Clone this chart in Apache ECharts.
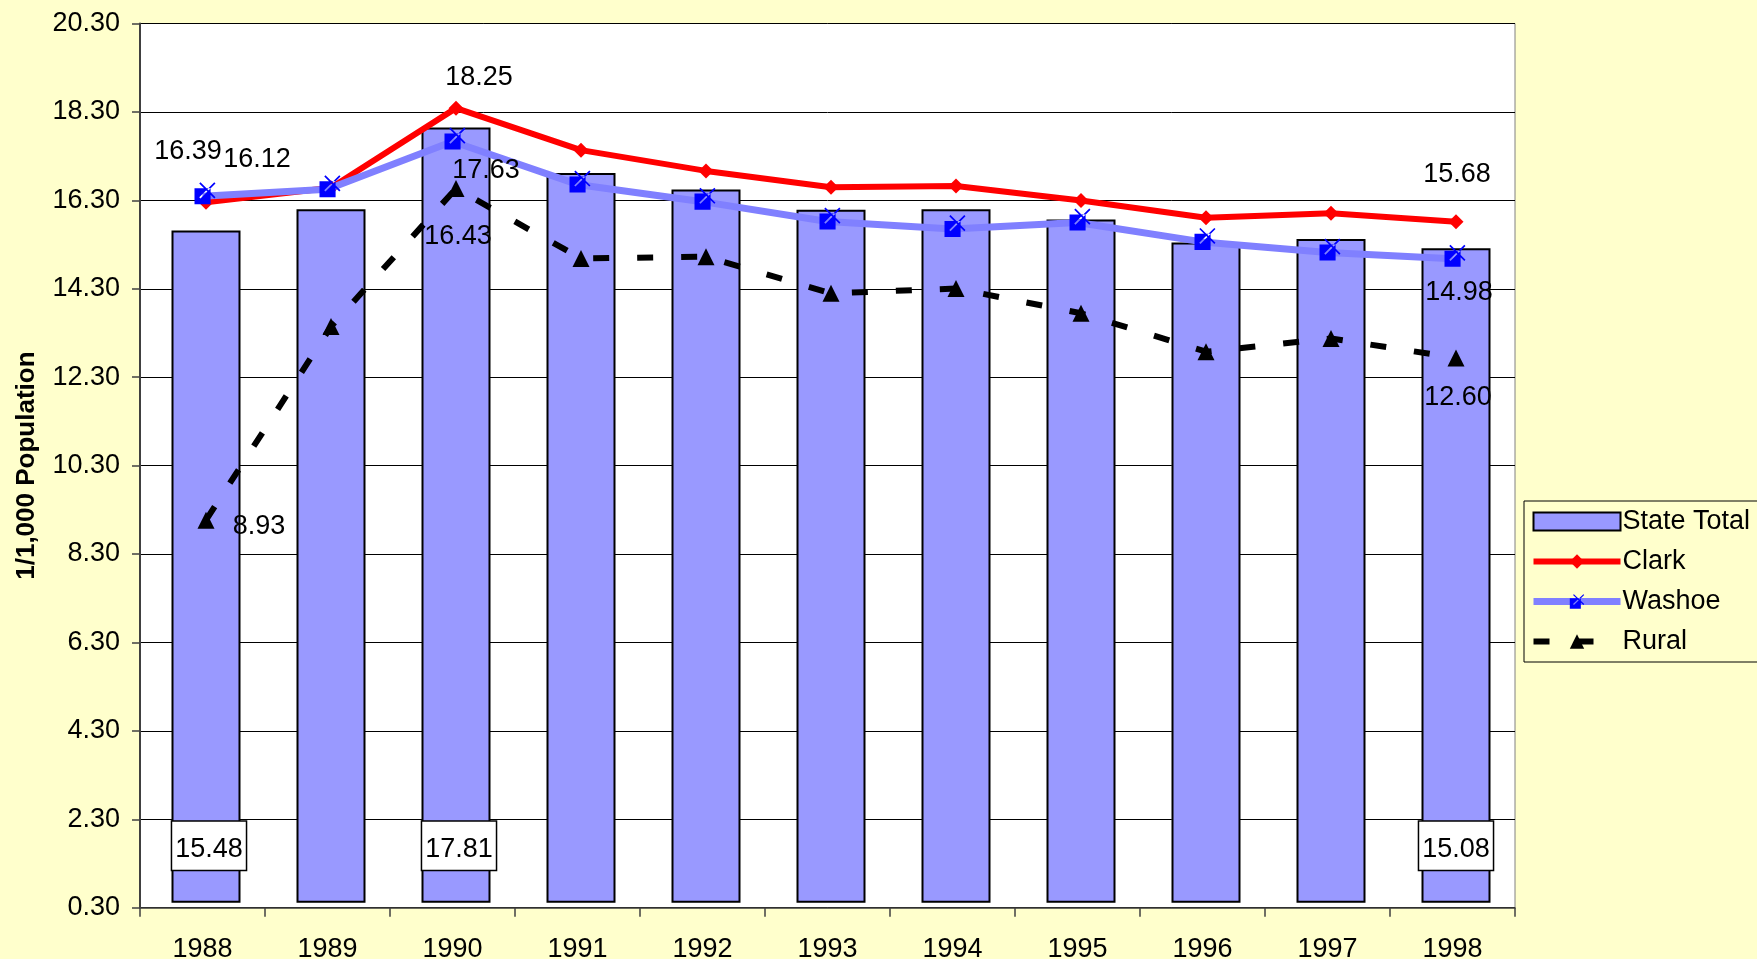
<!DOCTYPE html>
<html>
<head>
<meta charset="utf-8">
<title>Rates per 1,000 population</title>
<script src="https://cdn.jsdelivr.net/npm/echarts@6/dist/echarts.min.js"></script>
<style>
  html, body { margin: 0; padding: 0; background: #FFFFCC; }
  #main { width: 1757px; height: 959px; }
</style>
</head>
<body>
<div id="main"></div>
<script>
// data
const years = ['1988', '1989', '1990', '1991', '1992', '1993', '1994', '1995', '1996', '1997', '1998'];
const stateTotal = [15.48, 15.96, 17.81, 16.78, 16.41, 15.95, 15.96, 15.73, 15.21, 15.29, 15.08];
const clark = [16.12, 16.45, 18.25, 17.30, 16.83, 16.46, 16.49, 16.16, 15.77, 15.87, 15.68];
const washoe = [16.39, 16.55, 17.63, 16.66, 16.27, 15.82, 15.65, 15.80, 15.36, 15.12, 14.98];
const rural = [8.93, 13.31, 16.43, 14.85, 14.89, 14.06, 14.17, 13.61, 12.74, 13.04, 12.60];
const yMin = 0.3, yMax = 20.3, yStep = 2;

// where the labels sit (label centre minus point), by index
const clarkLabels = { 0: [51, -43], 2: [23, -31], 10: [1, -47] };
const washoeLabels = { 0: [-17, -42], 2: [31, 32], 10: [4, 37] };
const ruralLabels = { 0: [53, 6], 2: [2, 48], 10: [2, 40] };
const barLabels = { 0: [3, 0], 2: [3, 0], 10: [0, 0] };

const FONT = "'Liberation Sans', Arial, sans-serif";
const FS = 27;

function withLabels(values, offsets) {
  return values.map((v, i) => offsets[i]
    ? { value: v, label: { show: true, position: 'inside', offset: offsets[i] } }
    : v);
}

const lineLabel = {
  show: false,
  color: '#000',
  fontSize: FS,
  fontFamily: FONT,
  formatter: p => p.value.toFixed(2)
};

// blue square with a thin x poking out top right (Excel marker)
const washoeSymbol = 'path://M0,7 L15,7 L15,22 L0,22 Z ' +
  'M4.43,2.57 L5.57,1.43 L19.57,15.43 L18.43,16.57 Z ' +
  'M19.57,2.57 L18.43,1.43 L4.43,15.43 L5.57,16.57 Z';

var myChart = echarts.init(document.getElementById('main'));
let option = {
  animation: false,
  backgroundColor: '#FFFFCC',
  textStyle: { fontFamily: FONT },
  legend: {
    orient: 'vertical',
    left: 1524,
    top: 501,
    padding: [6, 300, 6, 6],
    backgroundColor: '#FFFFCC',
    borderColor: '#000',
    borderWidth: 1,
    itemWidth: 87,
    itemHeight: 18,
    itemGap: 11,
    selectedMode: false,
    textStyle: { fontSize: FS, color: '#000', fontFamily: FONT, lineHeight: 29, padding: [0, 0, 0, -3] },
    data: [
      { name: 'State Total', icon: 'rect' },
      { name: 'Clark', lineStyle: { width: 6 } },
      { name: 'Washoe', lineStyle: { width: 7 } },
      { name: 'Rural', lineStyle: { width: 6 } }
    ]
  },
  grid: [
    {
      left: 140, right: 242, top: 23.5, bottom: 51.3,
      outerBoundsMode: 'none',
      show: true, backgroundColor: '#fff', borderColor: '#808080', borderWidth: 1
    },
    // the bars, Clark and Rural sit a few pixels up and right in the original
    { left: 143.5, right: 238.5, top: 17.5, bottom: 57.3, outerBoundsMode: 'none', show: false }
  ],
  xAxis: [
    {
      type: 'category',
      data: years,
      axisLine: { lineStyle: { color: '#404040', width: 1.5 } },
      axisTick: { show: true, length: 9, lineStyle: { color: '#404040', width: 1.5 } },
      axisLabel: { color: '#000', fontSize: FS, fontFamily: FONT, margin: 28 },
      splitLine: { show: false }
    },
    { type: 'category', gridIndex: 1, data: years, show: false }
  ],
  yAxis: [
    {
      type: 'value',
      min: yMin,
      max: yMax,
      interval: yStep,
      name: '1/1,000 Population',
      nameLocation: 'middle',
      nameGap: 100,
      nameTextStyle: { color: '#000', fontSize: 26, fontWeight: 'bold', fontFamily: FONT },
      axisLine: { show: true, lineStyle: { color: '#404040', width: 2 } },
      axisTick: { show: true, length: 8, lineStyle: { color: '#404040', width: 1.5 } },
      axisLabel: {
        color: '#000', fontSize: FS, fontFamily: FONT, margin: 20,
        formatter: v => v.toFixed(2)
      },
      splitLine: { show: true, lineStyle: { color: '#000', width: 1 } }
    },
    { type: 'value', gridIndex: 1, min: yMin, max: yMax, interval: yStep, show: false, splitLine: { show: false } }
  ],
  series: [
    {
      name: 'State Total',
      type: 'bar',
      xAxisIndex: 1,
      yAxisIndex: 1,
      barWidth: 69,
      z: 2,
      itemStyle: { color: '#9999FF', borderColor: '#000', borderWidth: 2 },
      label: {
        show: false,
        position: 'insideBottom',
        distance: 33,
        color: '#000',
        fontSize: FS,
        fontFamily: FONT,
        backgroundColor: '#fff',
        borderColor: '#000',
        borderWidth: 1.5,
        padding: [15, 3, 7, 3],
        lineHeight: 26,
        formatter: p => p.value.toFixed(2)
      },
      data: stateTotal.map((v, i) => barLabels[i]
        ? { value: v, label: { show: true, offset: barLabels[i] } }
        : v)
    },
    {
      name: 'Clark',
      type: 'line',
      xAxisIndex: 1,
      yAxisIndex: 1,
      z: 3,
      symbol: 'diamond',
      symbolSize: 15,
      showAllSymbol: true,
      lineStyle: { color: '#FF0000', width: 6 },
      itemStyle: { color: '#FF0000' },
      label: lineLabel,
      data: withLabels(clark, clarkLabels)
    },
    {
      name: 'Washoe',
      type: 'line',
      z: 4,
      symbol: washoeSymbol,
      symbolSize: [21, 22],
      symbolOffset: [2.5, -3],
      showAllSymbol: true,
      lineStyle: { color: '#8080FF', width: 7 },
      itemStyle: { color: '#0000FF' },
      label: lineLabel,
      data: withLabels(washoe, washoeLabels)
    },
    {
      name: 'Rural',
      type: 'line',
      xAxisIndex: 1,
      yAxisIndex: 1,
      z: 5,
      symbol: 'triangle',
      symbolSize: 17,
      showAllSymbol: true,
      lineStyle: { color: '#000', width: 6, type: [16, 28], cap: 'butt' },
      itemStyle: { color: '#000' },
      label: lineLabel,
      data: withLabels(rural, ruralLabels)
    }
  ]
};
myChart.setOption(option);
</script>
</body>
</html>
